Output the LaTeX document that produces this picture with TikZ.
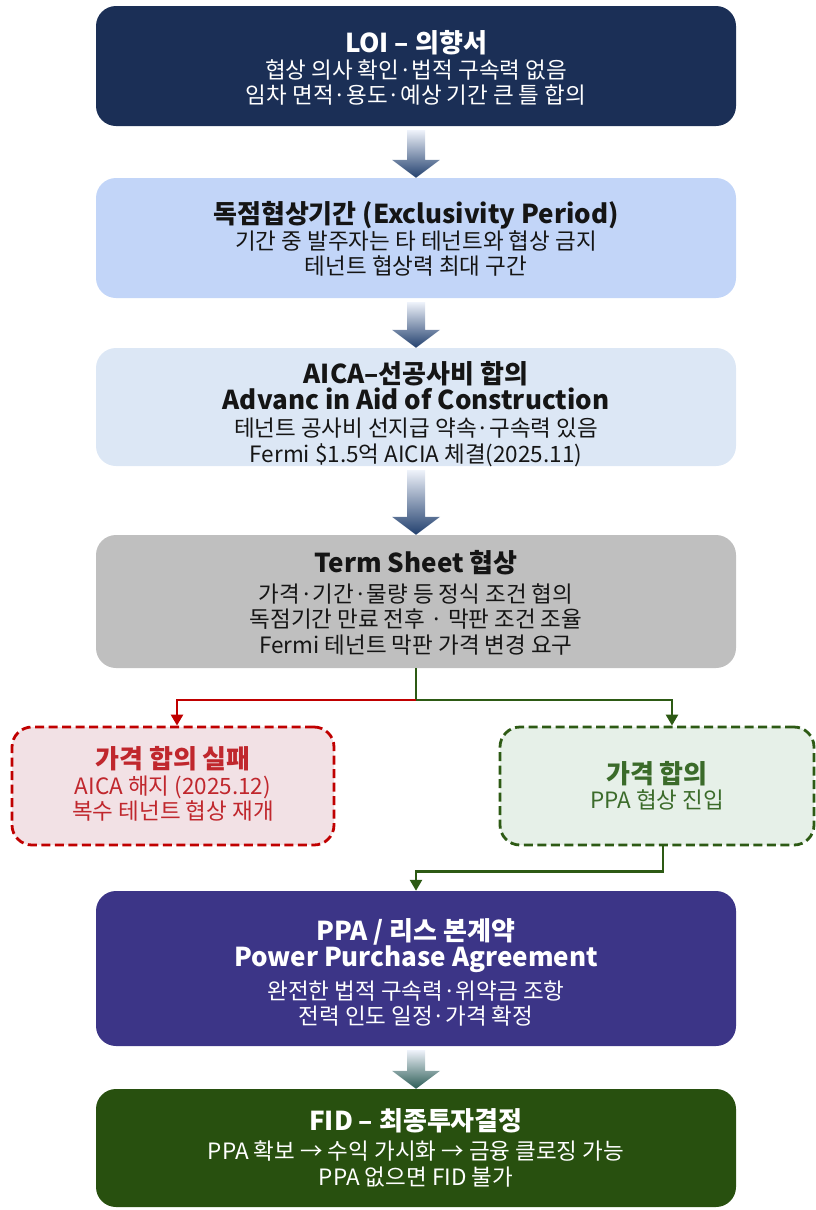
\documentclass[tikz,border=0pt]{standalone}
\usepackage{fontspec}
\setmainfont{Noto Sans CJK KR}
\usetikzlibrary{arrows.meta,calc}

\definecolor{navy}{HTML}{1B2F56}
\definecolor{skyfill}{HTML}{C2D5F8}
\definecolor{palefill}{HTML}{DCE7F5}
\definecolor{greyfill}{HTML}{BFBFBF}
\definecolor{failfill}{HTML}{F2E1E5}
\definecolor{failline}{HTML}{C00000}
\definecolor{failtext}{HTML}{C0272D}
\definecolor{okfill}{HTML}{E6F0E8}
\definecolor{okline}{HTML}{2D5A14}
\definecolor{oktext}{HTML}{3B6B2A}
\definecolor{ppafill}{HTML}{3C3587}
\definecolor{fidfill}{HTML}{28500F}
\definecolor{arrtop}{HTML}{EEF2FA}
\definecolor{arrnavy}{HTML}{22406E}
\definecolor{arrteal}{HTML}{2B5C55}
\definecolor{inktext}{HTML}{151515}

\newcommand\ttl[1]{{\fontsize{26}{28}\selectfont\bfseries #1}}

% shaded block arrow between two stacked stages
\newcommand\blockarrow[3]{%
  \shade[top color=arrtop, bottom color=#3]
    let \p1=(#1.south), \p2=(#2.north) in
    (\x1-9pt,\y1-4pt) -- (\x1+9pt,\y1-4pt) -- (\x1+9pt,\y2+18pt)
    -- (\x1+24pt,\y2+18pt) -- (\x1,\y2) -- (\x1-24pt,\y2+18pt)
    -- (\x1-9pt,\y2+18pt) -- cycle;}

\begin{document}
\begin{tikzpicture}[x=1pt,y=-1pt,
  stage/.style={rectangle, rounded corners=20pt, minimum width=640pt, inner sep=0pt},
  outcome/.style={rectangle, rounded corners=20pt, inner sep=0pt,
    line width=2.8pt, dash pattern=on 9pt off 4.5pt},
  words/.style={align=center, inner sep=0pt, font=\fontsize{22.5}{25.5}\selectfont},
  link/.style={line width=2.5pt, -{Triangle[length=11pt,width=12pt]}}
]
\useasboundingbox (0,0) rectangle (816,1210);

% stage boxes
\node[stage, fill=navy, minimum height=120pt] (loi) at (416,66) {};
\node[stage, fill=skyfill, minimum height=120pt] (excl) at (416,238) {};
\node[stage, fill=palefill, minimum height=118pt] (aica) at (416,407) {};
\node[stage, fill=greyfill, minimum height=133pt] (ts) at (416,601.5) {};
\node[outcome, draw=failline, fill=failfill,
  minimum width=322pt, minimum height=118pt] (fail) at (173,786) {};
\node[outcome, draw=okline, fill=okfill,
  minimum width=314pt, minimum height=118pt] (agree) at (657,786) {};
\node[stage, fill=ppafill, minimum height=155pt] (ppa) at (416,968.5) {};
\node[stage, fill=fidfill, minimum height=118pt] (fid) at (416,1148) {};

% stage texts
\node[words, text=white] (loi-t) at ($(loi.center)+(0,2)$)
  {\ttl{LOI – 의향서}\\ 협상 의사 확인·법적 구속력 없음\\ 임차 면적·용도·예상 기간 큰 틀 합의};
\node[words, text=inktext] (excl-t) at ($(excl.center)+(0,1)$)
  {\ttl{독점협상기간 (Exclusivity Period)}\\ 기간 중 발주자는 타 테넌트와 협상 금지\\ 테넌트 협상력 최대 구간};
\node[words, text=inktext] (aica-t) at ($(aica.center)+(0,7)$)
  {\ttl{AICA–선공사비 합의}\\ \ttl{Advanc in Aid of Construction}\\[2pt] 테넌트 공사비 선지급 약속·구속력 있음\\ Fermi \$1.5억 AICIA 체결(2025.11)};
\node[words, text=inktext] (ts-t) at ($(ts.center)+(0,1.5)$)
  {\ttl{Term Sheet 협상}\\[4pt] 가격·기간·물량 등 정식 조건 협의\\ 독점기간 만료 전후 · 막판 조건 조율\\ Fermi 테넌트 막판 가격 변경 요구};
\node[words, text=failtext] (fail-t) at ($(fail.center)+(0,-2)$)
  {\ttl{가격 합의 실패}\\ AICA 해지 (2025.12)\\ 복수 테넌트 협상 재개};
\node[words, text=oktext] (agree-t) at (agree.center)
  {\ttl{가격 합의}\\ PPA 협상 진입};
\node[words, text=white] (ppa-t) at ($(ppa.center)+(0,4)$)
  {\ttl{PPA / 리스 본계약}\\ \ttl{Power Purchase Agreement}\\[7pt] 완전한 법적 구속력·위약금 조항\\ 전력 인도 일정·가격 확정};
\node[words, text=white] (fid-t) at (fid.center)
  {\ttl{FID – 최종투자결정}\\[3pt] PPA 확보 → 수익 가시화 → 금융 클로징 가능\\[1pt] PPA 없으면 FID 불가};

% shaded arrows down the main chain
\blockarrow{loi}{excl}{arrnavy}
\blockarrow{excl}{aica}{arrnavy}
\blockarrow{aica}{ts}{arrnavy}
\blockarrow{ppa}{fid}{arrteal}

% branch after the term sheet
\coordinate (split) at ($(ts.south)+(0,32)$);
\draw[link, okline] (ts.south) -- (split) -| ([xshift=15pt]agree.north);
\draw[link, failline] (split) -| ([xshift=4pt]fail.north);
\draw[link, okline] ([xshift=6pt]agree.south) -- ++(0,25) -| (ppa.north);
\end{tikzpicture}
\end{document}
